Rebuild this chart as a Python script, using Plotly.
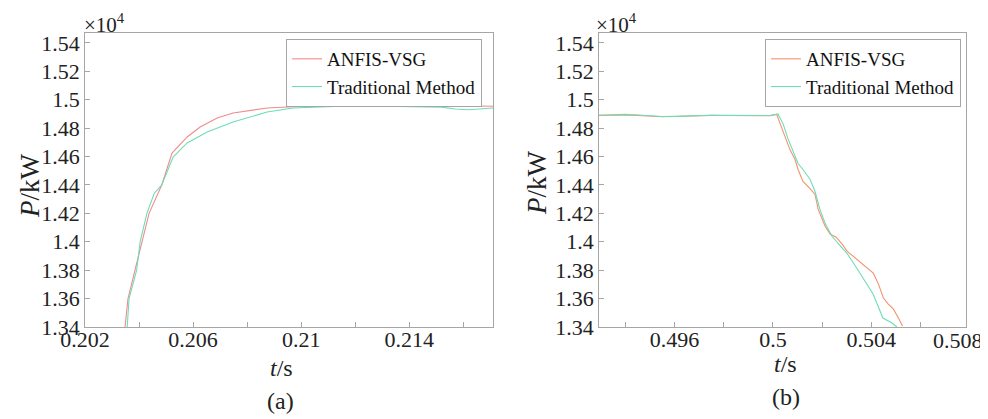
import plotly.graph_objects as go

# ---------------- data (P in units of 10^4 kW, t in s) ----------------
# Panel (a)
t_a_anfis = [0.20348, 0.20359, 0.20385, 0.20410, 0.20437, 0.20484, 0.20522, 0.20578,
             0.20626, 0.20689, 0.20748, 0.20874, 0.20996, 0.2105, 0.2112, 0.2120,
             0.2130, 0.2140, 0.2150, 0.2160, 0.2171]
p_a_anfis = [1.3400, 1.3600, 1.3800, 1.4000, 1.4200, 1.4400, 1.4625, 1.4738,
             1.4808, 1.4872, 1.4907, 1.4942, 1.4956, 1.4958, 1.4963, 1.4960,
             1.4960, 1.4962, 1.4958, 1.4955, 1.4954]

t_a_trad = [0.20356, 0.20363, 0.20391, 0.20404, 0.20429, 0.20456, 0.20484, 0.20526,
            0.20578, 0.20652, 0.20748, 0.20874, 0.2097, 0.2105, 0.2115, 0.2125,
            0.2135, 0.2145, 0.2152, 0.2157, 0.2162, 0.2166, 0.2171]
p_a_trad = [1.3400, 1.3600, 1.3800, 1.4000, 1.4200, 1.4340, 1.4400, 1.4597,
            1.4696, 1.4773, 1.4844, 1.4914, 1.4942, 1.4950, 1.4955, 1.4957,
            1.4955, 1.4952, 1.4948, 1.4935, 1.4930, 1.4935, 1.4942]

# Panel (b)
t_b_anfis = [0.49293, 0.4935, 0.4940, 0.4945, 0.4950, 0.4955, 0.4960, 0.4965,
             0.4970, 0.4975, 0.4980, 0.4985, 0.4990, 0.4995, 0.49990, 0.50015,
             0.50036, 0.50049, 0.50069, 0.50090, 0.50102, 0.50122, 0.50151,
             0.50171, 0.50184, 0.50212, 0.50233, 0.50257, 0.50282, 0.50302,
             0.50327, 0.50367, 0.50408, 0.50429, 0.50449, 0.50469, 0.50490,
             0.50510, 0.50527]
p_b_anfis = [1.4890, 1.4892, 1.4893, 1.4890, 1.4885, 1.4880, 1.4882, 1.4886,
             1.4889, 1.4890, 1.4889, 1.4888, 1.4887, 1.4887, 1.4888, 1.4897,
             1.4799, 1.4740, 1.4649, 1.4579, 1.4509, 1.4425, 1.4375,
             1.4333, 1.4228, 1.4109, 1.4053, 1.4032, 1.3982, 1.3933,
             1.3898, 1.3842, 1.3779, 1.3702, 1.3604, 1.3561, 1.3526,
             1.3463, 1.3407]

t_b_trad = [0.49293, 0.4935, 0.4940, 0.4945, 0.4950, 0.4955, 0.4960, 0.4965,
            0.4970, 0.4975, 0.4980, 0.4985, 0.4990, 0.4995, 0.49990, 0.50020,
            0.50041, 0.50061, 0.50081, 0.50102, 0.50122, 0.50151, 0.50171,
            0.50191, 0.50212, 0.50240, 0.50272, 0.50301, 0.50341, 0.50374,
            0.50407, 0.50447, 0.50484, 0.50504]
p_b_trad = [1.4891, 1.4895, 1.4897, 1.4893, 1.4887, 1.4882, 1.4883, 1.4887,
            1.4890, 1.4891, 1.4890, 1.4889, 1.4888, 1.4888, 1.4889, 1.4900,
            1.4832, 1.4726, 1.4635, 1.4551, 1.4509, 1.4439, 1.4354,
            1.4228, 1.4130, 1.4039, 1.3975, 1.3919, 1.3814, 1.3723,
            1.3632, 1.3463, 1.3428, 1.3400]

series_names = ["ANFIS-VSG", "Traditional Method"]

y_tickvals = [1.34, 1.36, 1.38, 1.40, 1.42, 1.44, 1.46, 1.48, 1.50, 1.52, 1.54]
y_ticktext = ["1.34", "1.36", "1.38", "1.4", "1.42", "1.44", "1.46", "1.48", "1.5", "1.52", "1.54"]
xa_tickvals = [0.202, 0.206, 0.210, 0.214]
xa_ticktext = ["0.202", "0.206", "0.21", "0.214"]
xb_tickvals = [0.496, 0.500, 0.504]
xb_ticktext = ["0.496", "0.5", "0.504"]
xb_extra_label = "0.508"   # sits just past the right edge of panel (b)

# ---------------- figure ----------------
FONT = "Liberation Serif"
RED_A = "#ef8c8c"
RED_B = "#f2936f"
GREEN = "#6fdcb8"
FRAME = "#a6a6a6"
TXT = "#222222"

fig = go.Figure()
fig.add_trace(go.Scatter(x=t_a_anfis, y=p_a_anfis, mode="lines", name=series_names[0],
                         line=dict(color=RED_A, width=1.1), xaxis="x", yaxis="y", legend="legend"))
fig.add_trace(go.Scatter(x=t_a_trad, y=p_a_trad, mode="lines", name=series_names[1],
                         line=dict(color=GREEN, width=1.1), xaxis="x", yaxis="y", legend="legend"))
fig.add_trace(go.Scatter(x=t_b_anfis, y=p_b_anfis, mode="lines", name=series_names[0],
                         line=dict(color=RED_B, width=1.1), xaxis="x2", yaxis="y2", legend="legend2"))
fig.add_trace(go.Scatter(x=t_b_trad, y=p_b_trad, mode="lines", name=series_names[1],
                         line=dict(color=GREEN, width=1.1), xaxis="x2", yaxis="y2", legend="legend2"))

axis_common = dict(showgrid=False, zeroline=False, showline=True, linecolor=FRAME, linewidth=1,
                   mirror=True, ticks="inside", ticklen=5, tickcolor=FRAME, automargin=False,
                   tickfont=dict(family=FONT, size=22, color=TXT))

yrange = [1.34, 1.547]
y_domain = [0.2238, 0.9392]

fig.update_layout(
    width=980, height=411,
    margin=dict(l=0, r=0, t=0, b=0, autoexpand=False),
    paper_bgcolor="white", plot_bgcolor="white",
    xaxis=dict(domain=[0.0786, 0.4949], range=[0.202, 0.2171], tickvals=xa_tickvals,
               ticktext=xa_ticktext, ticklabelstandoff=-7,
               minor=dict(dtick=0.002, tick0=0.202, ticks="inside", ticklen=5, tickcolor=FRAME),
               anchor="y", **axis_common),
    yaxis=dict(domain=y_domain, range=yrange, tickvals=y_tickvals, ticktext=y_ticktext,
               anchor="x", **axis_common),
    xaxis2=dict(domain=[0.6031, 0.9776], range=[0.49293, 0.50785], tickvals=xb_tickvals,
                ticktext=xb_ticktext, ticklabelstandoff=-7,
                minor=dict(dtick=0.002, tick0=0.5, ticks="inside", ticklen=5, tickcolor=FRAME),
                anchor="y2", **axis_common),
    yaxis2=dict(domain=y_domain, range=yrange, tickvals=y_tickvals, ticktext=y_ticktext,
                anchor="x2", **axis_common),
    legend=dict(x=0.4837, y=0.9246, xanchor="right", yanchor="top", bgcolor="white",
                bordercolor=FRAME, borderwidth=1, font=dict(family=FONT, size=19, color="#111111"),
                itemwidth=30, tracegroupgap=0),
    legend2=dict(x=0.9724, y=0.9246, xanchor="right", yanchor="top", bgcolor="white",
                 bordercolor=FRAME, borderwidth=1, font=dict(family=FONT, size=19, color="#111111"),
                 itemwidth=30, tracegroupgap=0),
    showlegend=True,
)

ann_font = dict(family=FONT, color=TXT)
annotations = [
    dict(text="×10<sup>4</sup>", x=0.0755, y=1.0, xref="paper", yref="paper",
         xanchor="left", yanchor="top", showarrow=False, font=dict(size=21, **ann_font)),
    dict(text="×10<sup>4</sup>", x=0.598, y=1.0, xref="paper", yref="paper",
         xanchor="left", yanchor="top", showarrow=False, font=dict(size=21, **ann_font)),
    dict(text="<i>P</i>/kW", x=0.0224, y=0.5693, xref="paper", yref="paper", textangle=-90,
         xanchor="center", yanchor="middle", showarrow=False, font=dict(size=27, **ann_font)),
    dict(text="<i>P</i>/kW", x=0.5398, y=0.5742, xref="paper", yref="paper", textangle=-90,
         xanchor="center", yanchor="middle", showarrow=False, font=dict(size=27, **ann_font)),
    dict(text="<i>t</i>/s", x=0.2786, y=0.1241, xref="paper", yref="paper",
         xanchor="center", yanchor="middle", showarrow=False, font=dict(size=24, **ann_font)),
    dict(text="<i>t</i>/s", x=0.7929, y=0.1338, xref="paper", yref="paper",
         xanchor="center", yanchor="middle", showarrow=False, font=dict(size=24, **ann_font)),
    dict(text="(a)", x=0.2776, y=0.0438, xref="paper", yref="paper",
         xanchor="center", yanchor="middle", showarrow=False, font=dict(size=24, **ann_font)),
    dict(text="(b)", x=0.7939, y=0.0535, xref="paper", yref="paper",
         xanchor="center", yanchor="middle", showarrow=False, font=dict(size=24, **ann_font)),
    dict(text=xb_extra_label, x=0.997, y=y_domain[0], xref="paper", yref="paper",
         xanchor="right", yanchor="top", yshift=1, showarrow=False, font=dict(size=22, **ann_font)),
]
fig.update_layout(annotations=annotations)

fig.write_html("out.html")
